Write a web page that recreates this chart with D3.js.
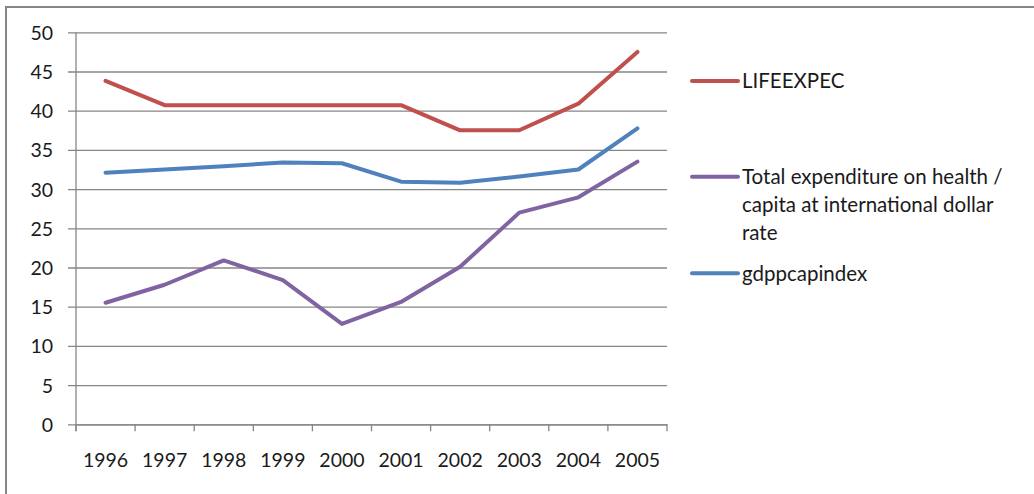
<!DOCTYPE html>
<html>
<head>
<meta charset="utf-8">
<script src="https://cdn.jsdelivr.net/npm/d3@7"></script>
<style>
  html, body { margin: 0; padding: 0; background: #fff; }
  svg text { font-family: Lato, "Open Sans", sans-serif; fill: #1a1a1a; }
</style>
</head>
<body>
<svg id="chart" width="1034" height="494"></svg>
<script>
const years = ["1996","1997","1998","1999","2000","2001","2002","2003","2004","2005"];
const lifeExpec = [43.8, 40.7, 40.7, 40.7, 40.7, 40.7, 37.5, 37.5, 40.9, 47.5];
const healthExp = [15.5, 17.8, 20.9, 18.4, 12.8, 15.6, 20.1, 27.0, 28.95, 33.5];
const gdpIndex  = [32.1, 32.5, 32.9, 33.4, 33.3, 30.95, 30.8, 31.6, 32.5, 37.75];
const yTicks = [0, 5, 10, 15, 20, 25, 30, 35, 40, 45, 50];

const seriesNames = ["LIFEEXPEC", "Total expenditure on health / capita at international dollar rate", "gdppcapindex"];
const seriesColors = ["#C0504D", "#8064A2", "#4F81BD"];
const seriesValues = [lifeExpec, healthExp, gdpIndex];

(function () {
const svg = d3.select("#chart");
const axisColor = "#868686";

// outer frame
svg.append("rect").attr("x", 6).attr("y", 7).attr("width", 1100).attr("height", 600)
  .attr("fill", "none").attr("stroke", axisColor).attr("stroke-width", 2);

const pLeft = 76, pRight = 667, pTop = 32.3, pBottom = 424.3;
const x = d3.scaleBand().domain(years).range([pLeft, pRight]).padding(0);
const y = d3.scaleLinear().domain([0, 50]).range([pBottom, pTop]);

// gridlines + y axis
const yAxis = d3.axisLeft(y).tickValues(yTicks).tickSize(-(pRight - pLeft)).tickPadding(14);
const gy = svg.append("g").attr("transform", `translate(${pLeft},0)`).call(yAxis);
gy.select(".domain").remove();
gy.selectAll(".tick line").attr("stroke", axisColor).attr("stroke-width", 1.3)
  .attr("x1", -8);
gy.selectAll(".tick text").attr("font-size", "19.5px").attr("x", -23).attr("dy", "0.36em")
  .style("font-family", "Lato, 'Open Sans', sans-serif").attr("fill", "#1a1a1a");

// vertical axis line
svg.append("line").attr("x1", pLeft).attr("x2", pLeft).attr("y1", pTop).attr("y2", pBottom + 7)
  .attr("stroke", axisColor).attr("stroke-width", 1.3);

// x axis
const xAxis = d3.axisBottom(x).tickSize(0).tickPadding(0);
const gx = svg.append("g").attr("transform", `translate(0,${pBottom})`).call(xAxis);
gx.select(".domain").attr("stroke", axisColor).attr("stroke-width", 1.3);
gx.selectAll(".tick text").attr("font-size", "19.5px").attr("y", 36).attr("dy", "0.36em")
  .style("font-family", "Lato, 'Open Sans', sans-serif").attr("fill", "#1a1a1a");
// category boundary ticks
const bounds = years.map(d => x(d)).concat([x(years[years.length - 1]) + x.bandwidth()]);
svg.append("g").selectAll("line").data(bounds).join("line")
  .attr("x1", d => d).attr("x2", d => d).attr("y1", pBottom).attr("y2", pBottom + 7)
  .attr("stroke", axisColor).attr("stroke-width", 1.3);

// lines
const line = d3.line().x((d, i) => x(years[i]) + x.bandwidth() / 2).y(d => y(d));
const drawOrder = [0, 2, 1];
drawOrder.forEach(k => {
  svg.append("path").datum(seriesValues[k]).attr("d", line)
    .attr("fill", "none").attr("stroke", seriesColors[k]).attr("stroke-width", 4)
    .attr("stroke-linejoin", "round").attr("stroke-linecap", "round");
});

// legend
const legendItems = [
  { lines: ["LIFEEXPEC"], y: 81 },
  { lines: ["Total expenditure on health /", "capita at international dollar", "rate"], y: 176.7 },
  { lines: ["gdppcapindex"], y: 273.3 }
];
const lg = svg.append("g");
legendItems.forEach((it, k) => {
  lg.append("line").attr("x1", 692).attr("x2", 738).attr("y1", it.y).attr("y2", it.y)
    .attr("stroke", seriesColors[k]).attr("stroke-width", 4).attr("stroke-linecap", "round");
  const t = lg.append("text").attr("x", 742).attr("y", it.y).attr("font-size", "20.5px");
  it.lines.forEach((s, j) => {
    t.append("tspan").attr("x", 742).attr("y", it.y + j * 28).attr("dy", "0.36em").text(s);
  });
});
})();
</script>
</body>
</html>
